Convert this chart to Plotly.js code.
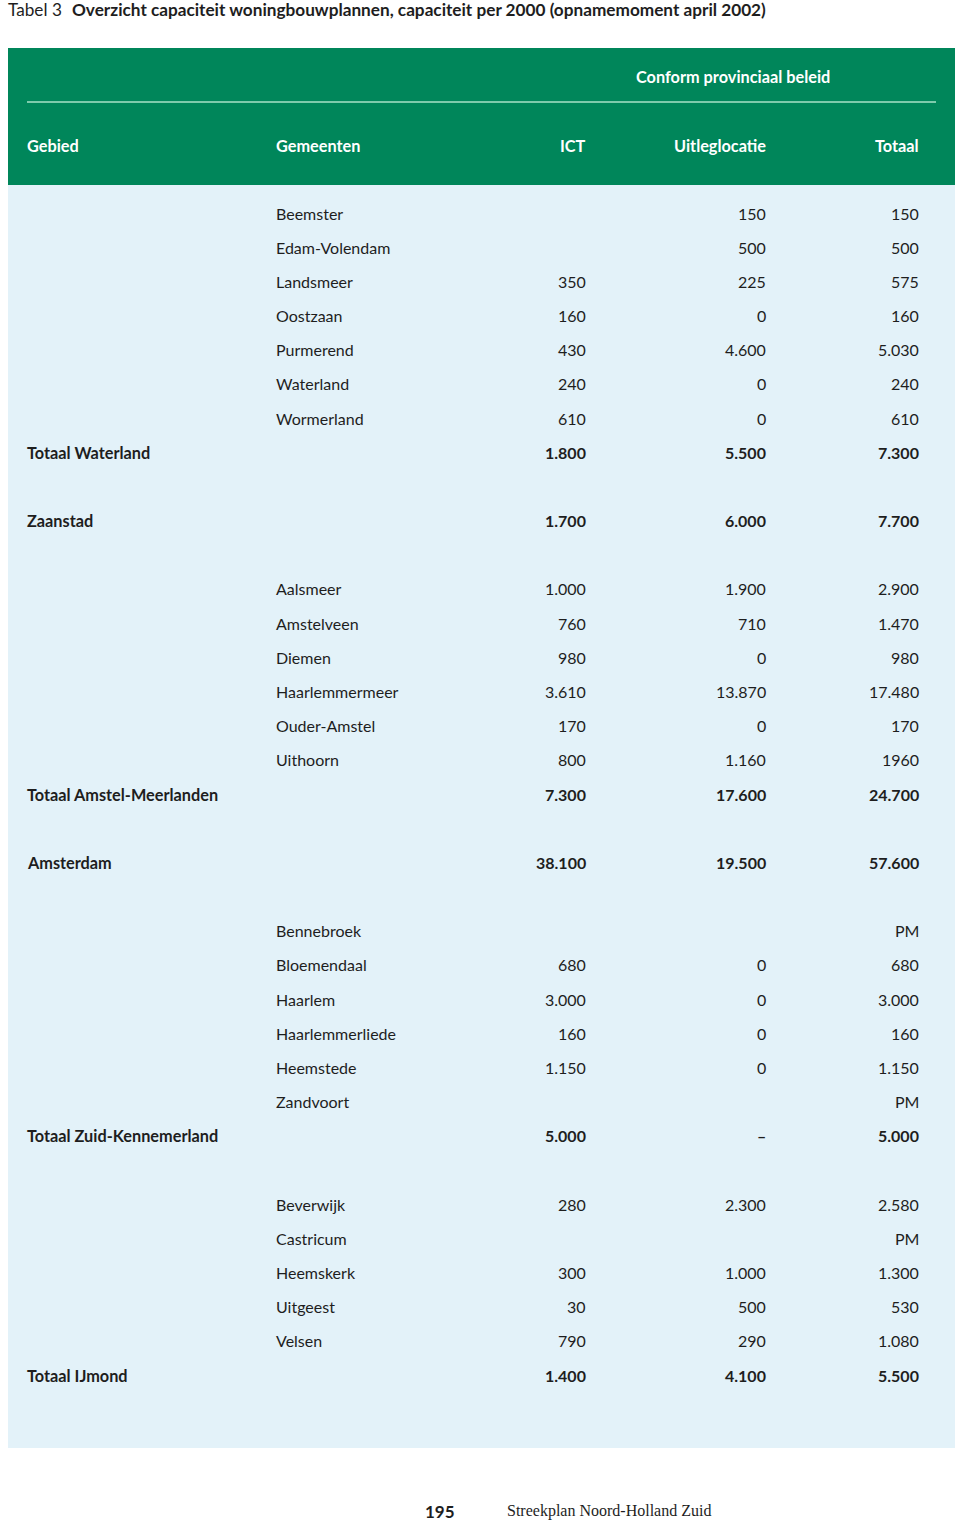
<!DOCTYPE html>
<html>
<head>
<meta charset="utf-8">
<script src="https://cdn.plot.ly/plotly-3.0.1.min.js"></script>
<style>html,body{margin:0;padding:0;background:#fff;}#chart{width:960px;height:1523px;}</style>
</head>
<body>
<div id="chart"></div>
<script>
// ---- data ----
const titleLabel = 'Tabel 3';
const titleText = 'Overzicht capaciteit woningbouwplannen, capaciteit per 2000 (opnamemoment april 2002)';
const groupHeader = 'Conform provinciaal beleid';
const columnHeaders = ['Gebied', 'Gemeenten', 'ICT', 'Uitleglocatie', 'Totaal'];

const gebied = ['', '', '', '', '', '', '', 'Totaal Waterland', 'Zaanstad',
  '', '', '', '', '', '', 'Totaal Amstel-Meerlanden', 'Amsterdam',
  '', '', '', '', '', '', 'Totaal Zuid-Kennemerland',
  '', '', '', '', '', 'Totaal IJmond'];
const gemeenten = ['Beemster', 'Edam-Volendam', 'Landsmeer', 'Oostzaan', 'Purmerend', 'Waterland', 'Wormerland', '', '',
  'Aalsmeer', 'Amstelveen', 'Diemen', 'Haarlemmermeer', 'Ouder-Amstel', 'Uithoorn', '', '',
  'Bennebroek', 'Bloemendaal', 'Haarlem', 'Haarlemmerliede', 'Heemstede', 'Zandvoort', '',
  'Beverwijk', 'Castricum', 'Heemskerk', 'Uitgeest', 'Velsen', ''];
const ict = ['', '', '350', '160', '430', '240', '610', '1.800', '1.700',
  '1.000', '760', '980', '3.610', '170', '800', '7.300', '38.100',
  '', '680', '3.000', '160', '1.150', '', '5.000',
  '280', '', '300', '30', '790', '1.400'];
const uitleglocatie = ['150', '500', '225', '0', '4.600', '0', '0', '5.500', '6.000',
  '1.900', '710', '0', '13.870', '0', '1.160', '17.600', '19.500',
  '', '0', '0', '0', '0', '', '–',
  '2.300', '', '1.000', '500', '290', '4.100'];
const totaal = ['150', '500', '575', '160', '5.030', '240', '610', '7.300', '7.700',
  '2.900', '1.470', '980', '17.480', '170', '1960', '24.700', '57.600',
  'PM', '680', '3.000', '160', '1.150', 'PM', '5.000',
  '2.580', 'PM', '1.300', '530', '1.080', '5.500'];
const pageNumber = '195';
const footerText = 'Streekplan Noord-Holland Zuid';

// ---- layout helpers ----
const W = 960, H = 1523;
const ROW0 = 213, STEP = 34.18;           // pixel of first row, row pitch
const yOf = px => (px - ROW0) / STEP;     // pixel -> row coordinate
const SANS = 'Lato, Roboto, sans-serif';
const SERIF = '"Liberation Serif", "DejaVu Serif", serif';
const TXT = '#1e1e1e';
const GREEN = '#00865a';
const BLUE = '#e3f2f9';
const BODY = 16;

// row positions: one row per entry, extra blank row after each area total
const rowIdx = [];
let r = 0;
for (let i = 0; i < gemeenten.length; i++) {
  rowIdx.push(r);
  r += gebied[i] ? 2 : 1;
}

const cols = {gebied: 27, gemeenten: 276, ict: 586, uitleg: 766, totaal: 919};

const ann = [];
function add(text, x, y, anchor, bold, color, size, fam) {
  ann.push({
    text: bold ? '<b>' + text + '</b>' : text,
    x: x, y: y, xref: 'x', yref: 'y',
    xanchor: anchor, yanchor: 'middle', showarrow: false,
    borderpad: 0, borderwidth: 0,
    font: {family: fam || SANS, size: size || BODY, color: color || TXT}
  });
}

for (let i = 0; i < gemeenten.length; i++) {
  const y = rowIdx[i];
  const b = !!gebied[i];
  if (gebied[i]) add(gebied[i], cols.gebied, y, 'left', true, TXT, 16.3);
  if (gemeenten[i]) add(gemeenten[i], cols.gemeenten, y, 'left', false);
  if (ict[i]) add(ict[i], cols.ict, y, 'right', b);
  if (uitleglocatie[i]) add(uitleglocatie[i], cols.uitleg, y, 'right', b);
  if (totaal[i]) add(totaal[i], cols.totaal, y, 'right', b);
}

// header
const hy = yOf(145);
add(columnHeaders[0], cols.gebied, hy, 'left', true, '#ffffff', 16.3);
add(columnHeaders[1], cols.gemeenten, hy, 'left', true, '#ffffff', 16.3);
add(columnHeaders[2], cols.ict, hy, 'right', true, '#ffffff', 16.3);
add(columnHeaders[3], cols.uitleg, hy, 'right', true, '#ffffff', 16.3);
add(columnHeaders[4], cols.totaal, hy, 'right', true, '#ffffff', 16.3);
add(groupHeader, 733, yOf(76), 'center', true, '#ffffff', 16.3);

// title
add(titleLabel, 8, yOf(9), 'left', false, TXT, 17.2);
add(titleText, 72, yOf(9), 'left', true, TXT, 17.2);

// footer
add(pageNumber, 455, yOf(1511), 'right', true, TXT, 17);
add(footerText, 507, yOf(1511), 'left', false, TXT, 16, SERIF);

const shapes = [
  {type: 'rect', xref: 'x', yref: 'y', x0: 8, x1: 955, y0: yOf(185), y1: yOf(1448), fillcolor: BLUE, line: {width: 0}, layer: 'below'},
  {type: 'rect', xref: 'x', yref: 'y', x0: 8, x1: 955, y0: yOf(48), y1: yOf(185), fillcolor: GREEN, line: {width: 0}, layer: 'below'},
  {type: 'line', xref: 'x', yref: 'y', x0: 27, x1: 936, y0: yOf(102), y1: yOf(102), line: {color: '#a9e2c9', width: 1.5}}
];

const layout = {
  width: W, height: H,
  margin: {l: 0, r: 0, t: 0, b: 0, pad: 0},
  paper_bgcolor: '#ffffff', plot_bgcolor: '#ffffff',
  showlegend: false,
  xaxis: {range: [0, W], visible: false, fixedrange: true},
  yaxis: {range: [yOf(H), yOf(0)], visible: false, fixedrange: true},
  annotations: ann,
  shapes: shapes
};

Plotly.newPlot('chart', [{x: [], y: [], type: 'scatter', mode: 'markers', hoverinfo: 'skip'}], layout, {staticPlot: true, displayModeBar: false});
</script>
</body>
</html>
